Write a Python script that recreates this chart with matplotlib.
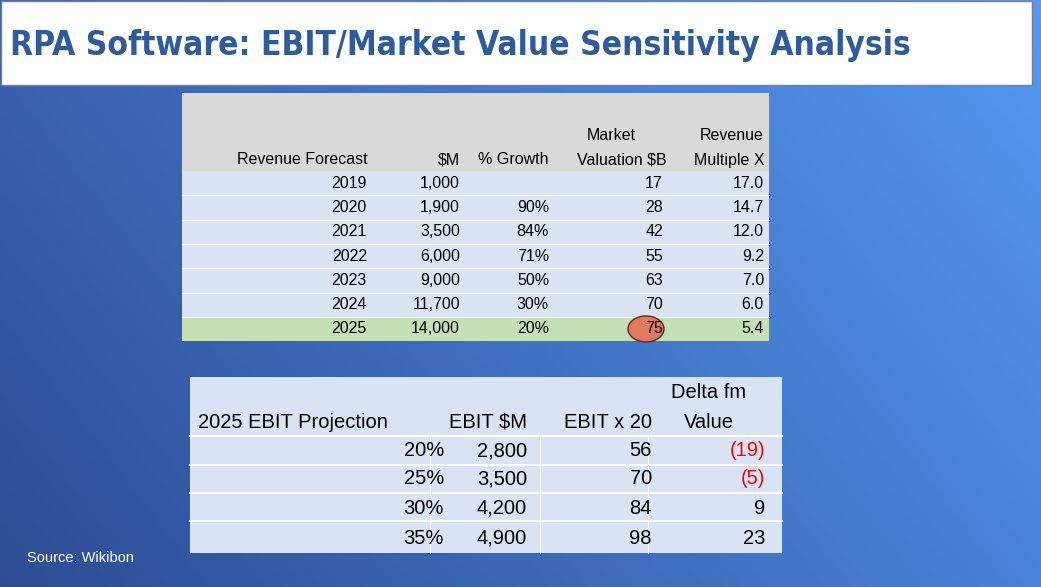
import numpy as np
import matplotlib.pyplot as plt
from matplotlib.patches import Rectangle, Ellipse

plt.rcParams['font.family'] = ['Liberation Sans', 'DejaVu Sans']

years = ["2019", "2020", "2021", "2022", "2023", "2024", "2025"]
revenue = ["1,000", "1,900", "3,500", "6,000", "9,000", "11,700", "14,000"]
growth = ["", "90%", "84%", "71%", "50%", "30%", "20%"]
valuation = ["17", "28", "42", "55", "63", "70", "75"]
multiple = ["17.0", "14.7", "12.0", "9.2", "7.0", "6.0", "5.4"]

ebit_pct = ["20%", "25%", "30%", "35%"]
ebit_m = ["2,800", "3,500", "4,200", "4,900"]
ebit_x20 = ["56", "70", "84", "98"]
delta = ["(19)", "(5)", "9", "23"]

W, H = 1041, 587
fig = plt.figure(figsize=(W / 100, H / 100), dpi=100)
ax = fig.add_axes([0, 0, 1, 1])
ax.set_xlim(0, W)
ax.set_ylim(H, 0)
ax.axis('off')

# background gradient
gx = np.linspace(0, 1, 256)
gy = np.linspace(0, 1, 128)
GX, GY = np.meshgrid(gx, gy)
t = np.clip(0.7 * GX + 0.3 * (1 - GY), 0, 1)
c0 = np.array([0.18, 0.30, 0.58])
c1 = np.array([0.33, 0.60, 0.95])
img = c0 + (c1 - c0) * t[..., None]
ax.imshow(img, extent=[0, W, H, 0], aspect='auto', zorder=0)

# title box
ax.add_patch(Rectangle((1, 1), 1031, 84, facecolor='white', edgecolor='#7f7f7f', lw=1, zorder=1))
ax.text(10, 45, "RPA Software: EBIT/Market Value Sensitivity Analysis", color='#2e5b9a',
        fontsize=24, fontweight='bold', va='center', ha='left', zorder=2,
        family=['DejaVu Sans'], fontstretch='condensed')

# table 1
ax.add_patch(Rectangle((182, 93), 587, 248, facecolor='#dae3f3', lw=0, zorder=1))
ax.add_patch(Rectangle((182, 93), 587, 78, facecolor='#d9d9d9', lw=0, zorder=1))
rh = 24.3
y0 = 171
ax.add_patch(Rectangle((182, y0 + 6 * rh), 587, 341 - (y0 + 6 * rh), facecolor='#c5e0b4', lw=0, zorder=1))
for i in range(1, 7):
    ax.plot([182, 769], [y0 + i * rh] * 2, color='white', lw=0.8, zorder=2)
f1 = 11.5
hdr_y = 160
ax.text(237, hdr_y, "Revenue Forecast", fontsize=f1, va='center', ha='left', zorder=3)
ax.text(460, hdr_y, "$M", fontsize=f1, va='center', ha='right', zorder=3)
ax.text(549, hdr_y, "% Growth", fontsize=f1, va='center', ha='right', zorder=3)
ax.text(636, 136, "Market", fontsize=f1, va='center', ha='right', zorder=3)
ax.text(667, hdr_y, "Valuation $B", fontsize=f1, va='center', ha='right', zorder=3)
ax.text(764, 136, "Revenue", fontsize=f1, va='center', ha='right', zorder=3)
ax.text(764, hdr_y, "Multiple X", fontsize=f1, va='center', ha='right', zorder=3)
for i in range(7):
    yc = y0 + i * rh + rh / 2
    for x, col in [(367, years), (460, revenue), (549, growth), (663, valuation), (764, multiple)]:
        ax.text(x, yc, col[i], fontsize=f1, va='center', ha='right', zorder=3)
ax.add_patch(Ellipse((646, y0 + 6 * rh + rh / 2), 36, 26, facecolor='#e07b62',
                     edgecolor='#5a2a20', lw=1, zorder=2))

# table 2
ax.add_patch(Rectangle((190, 377), 592, 176, facecolor='#dae3f3', lw=0, zorder=1))
for yl in [436, 465, 493, 521]:
    ax.plot([190, 782], [yl, yl], color='white', lw=1.5, zorder=2)
for xl in [430, 540, 648]:
    ax.plot([xl, xl], [436, 553], color='white', lw=0.6, zorder=2)
f2 = 14.5
ax.text(198, 422, "2025 EBIT Projection", fontsize=f2, va='center', ha='left', zorder=3)
ax.text(527, 422, "EBIT $M", fontsize=f2, va='center', ha='right', zorder=3)
ax.text(652, 422, "EBIT x 20", fontsize=f2, va='center', ha='right', zorder=3)
ax.text(709, 392, "Delta fm", fontsize=f2, va='center', ha='center', zorder=3)
ax.text(709, 422, "Value", fontsize=f2, va='center', ha='center', zorder=3)
rows_y = [451, 479, 508, 538]
for i, yc in enumerate(rows_y):
    ax.text(444, yc, ebit_pct[i], fontsize=f2, va='center', ha='right', zorder=3)
    ax.text(527, yc, ebit_m[i], fontsize=f2, va='center', ha='right', zorder=3)
    ax.text(652, yc, ebit_x20[i], fontsize=f2, va='center', ha='right', zorder=3)
    ax.text(765, yc, delta[i], fontsize=f2, va='center', ha='right', zorder=3,
            color='red' if delta[i].startswith('(') else 'black')

ax.text(27, 558, "Source: Wikibon", color='white', fontsize=10.5, va='center', ha='left', zorder=3)

fig.savefig("out.png", dpi=100)
